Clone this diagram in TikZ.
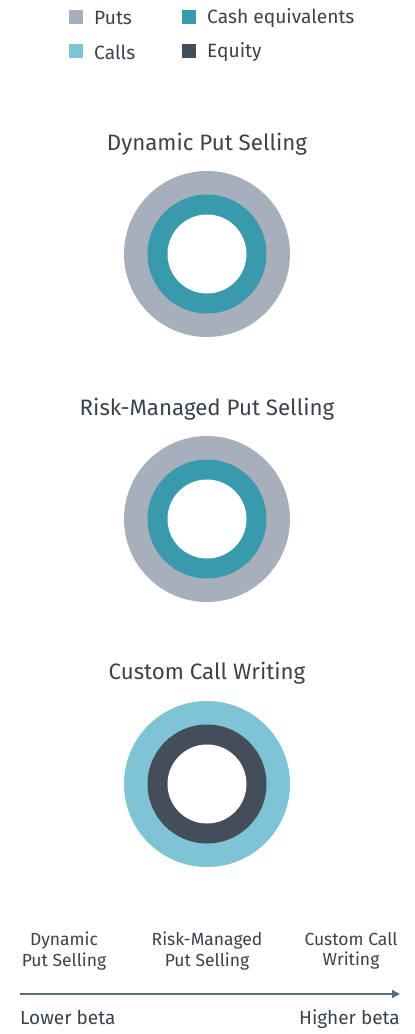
\documentclass[tikz,border=0pt]{standalone}
\usepackage{fontspec}
\setmainfont{Fira Sans}
\usetikzlibrary{arrows.meta}
\definecolor{putc}{HTML}{A7AFBA}
\definecolor{cashc}{HTML}{3A9AAD}
\definecolor{callc}{HTML}{7EC4D4}
\definecolor{eqc}{HTML}{444E59}
\definecolor{txt}{HTML}{3A434C}
\definecolor{axc}{HTML}{5C6B7A}
\begin{document}
\begin{tikzpicture}[x=1pt,y=-1pt,
  legsq/.style={fill=#1,minimum size=14pt,inner sep=0pt},
  legtxt/.style={anchor=west,text=txt,font=\fontsize{19.2}{22}\selectfont,inner sep=0pt},
  ttl/.style={text=txt,font=\fontsize{22.3}{26}\selectfont,inner sep=0pt},
  axlab/.style={text=txt,font=\fontsize{17.5}{20.5}\selectfont,align=center,inner sep=0pt},
  betalab/.style={text=txt,font=\fontsize{19}{22}\selectfont,inner sep=0pt},
  outer/.style={circle,fill=#1,minimum size=166pt,inner sep=0pt},
  midr/.style={circle,fill=#1,minimum size=119pt,inner sep=0pt},
  hole/.style={circle,fill=white,minimum size=79pt,inner sep=0pt}]
\useasboundingbox[fill=white] (0,0) rectangle (415,1034);
% legend
\node[legsq=putc] (sqp) at (76,17) {};
\node[legtxt] (lp) at (94,18) {Puts};
\node[legsq=cashc] (sqc) at (189,17) {};
\node[legtxt] (lc) at (207,18) {Cash equivalents};
\node[legsq=callc] (sqk) at (76,51) {};
\node[legtxt] (lk) at (94,52) {Calls};
\node[legsq=eqc] (sqe) at (189,51) {};
\node[legtxt] (le) at (207,52) {Equity};
% rings
\node[ttl] (t1) at (207,144) {Dynamic Put Selling};
\node[outer=putc] (o1) at (207,254) {};
\node[midr=cashc] (m1) at (207,254) {};
\node[hole] (h1) at (207,254) {};
\node[ttl] (t2) at (207,409) {Risk-Managed Put Selling};
\node[outer=putc] (o2) at (207,519) {};
\node[midr=cashc] (m2) at (207,519) {};
\node[hole] (h2) at (207,519) {};
\node[ttl] (t3) at (207,673) {Custom Call Writing};
\node[outer=callc] (o3) at (207,784) {};
\node[midr=eqc] (m3) at (207,784) {};
\node[hole] (h3) at (207,784) {};
% axis
\node[axlab] (a1) at (64,951) {Dynamic\\Put Selling};
\node[axlab] (a2) at (207,951) {Risk-Managed\\Put Selling};
\node[axlab] (a3) at (351,951) {Custom Call\\Writing};
\coordinate (ax0) at (20,994);
\coordinate (ax1) at (400,994);
\draw[axc,line width=1.3pt,-{Triangle[length=8pt,width=8pt]}] (ax0) -- (ax1);
\node[betalab,anchor=west] (lo) at (20,1017) {Lower beta};
\node[betalab,anchor=east] (hi) at (400,1019) {Higher beta};
\end{tikzpicture}
\end{document}
